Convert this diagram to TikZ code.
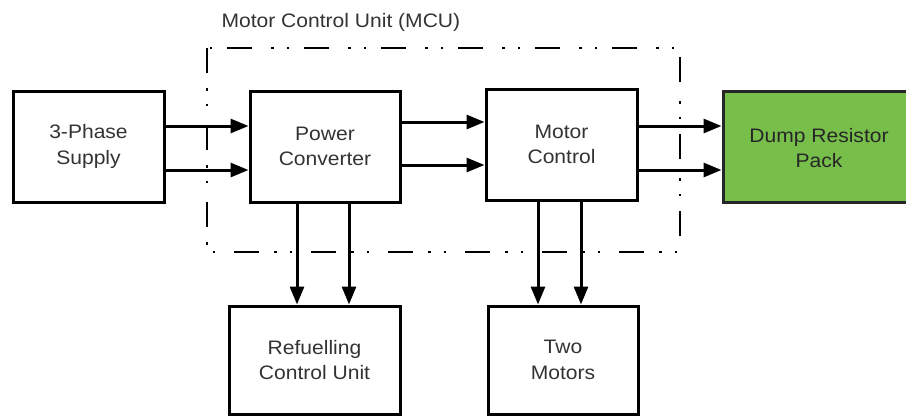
\documentclass[tikz,border=0pt]{standalone}
\usepackage{fontspec}
\setmainfont[FakeStretch=1.08]{Liberation Sans}
\usetikzlibrary{arrows.meta,calc}
\definecolor{txt}{HTML}{333333}
\definecolor{dumpgreen}{RGB}{120,190,75}
\begin{document}
\begin{tikzpicture}[x=1pt,y=-1pt,
  blk/.style={draw=black,line width=3pt,fill=white,inner sep=0pt,align=center,
    text=txt,font=\fontsize{19.5}{25.5}\selectfont},
  arr/.style={line width=3pt,-{Triangle[length=18pt,width=14pt]}},
  dashdot/.style={line width=2.8pt,dash pattern=on 25pt off 15pt on 2.5pt off 13pt on 2.5pt off 19pt}]
\useasboundingbox (0,0) rectangle (906,416);
% MCU boundary
\draw[dashdot] (207,48) rectangle (680,252);
\node[anchor=west,text=txt,font=\fontsize{19.5}{24}\selectfont] (lbl) at (218,22) {Motor Control Unit (MCU)};
% blocks
\node[blk,minimum width=151pt,minimum height=111pt] (sup) at (88.5,146.5) {3-Phase\\Supply};
\node[blk,minimum width=150pt,minimum height=111pt] (pc) at (325,146.5) {Power\\Converter};
\node[blk,minimum width=151pt,minimum height=111pt] (mc) at (561.5,144.5) {Motor\\Control};
\node[blk,fill=dumpgreen,draw=black!85,text=black!85,minimum width=185pt,minimum height=111pt] (dump) at (815.5,146.5) {};
\node[text=black!85,font=\fontsize{19.5}{25.5}\selectfont,align=center] (dumptxt) at (819,148) {Dump Resistor\\Pack};
\node[blk,minimum width=171pt,minimum height=108pt] (rcu) at (314.5,360) {Refuelling\\Control Unit};
\node[blk,minimum width=150pt,minimum height=108pt] (tm) at (563,360) {Two\\Motors};
% connectors
\draw[arr] ([yshift=20.5pt]sup.east) -- ([yshift=20.5pt]sup.east -| pc.west);
\draw[arr] ([yshift=-23.5pt]sup.east) -- ([yshift=-23.5pt]sup.east -| pc.west);
\draw[arr] ([yshift=24.5pt]pc.east) -- ([yshift=24.5pt]pc.east -| mc.west);
\draw[arr] ([yshift=-18.5pt]pc.east) -- ([yshift=-18.5pt]pc.east -| mc.west);
\draw[arr] ([yshift=18.5pt]mc.east) -- ([yshift=18.5pt]mc.east -| dump.west);
\draw[arr] ([yshift=-25.5pt]mc.east) -- ([yshift=-25.5pt]mc.east -| dump.west);
\draw[arr] ([xshift=-28pt]pc.south) -- ([xshift=-28pt]pc.south |- rcu.north);
\draw[arr] ([xshift=24pt]pc.south) -- ([xshift=24pt]pc.south |- rcu.north);
\draw[arr] ([xshift=-23.5pt]mc.south) -- ([xshift=-23.5pt]mc.south |- tm.north);
\draw[arr] ([xshift=19.5pt]mc.south) -- ([xshift=19.5pt]mc.south |- tm.north);
\end{tikzpicture}
\end{document}
